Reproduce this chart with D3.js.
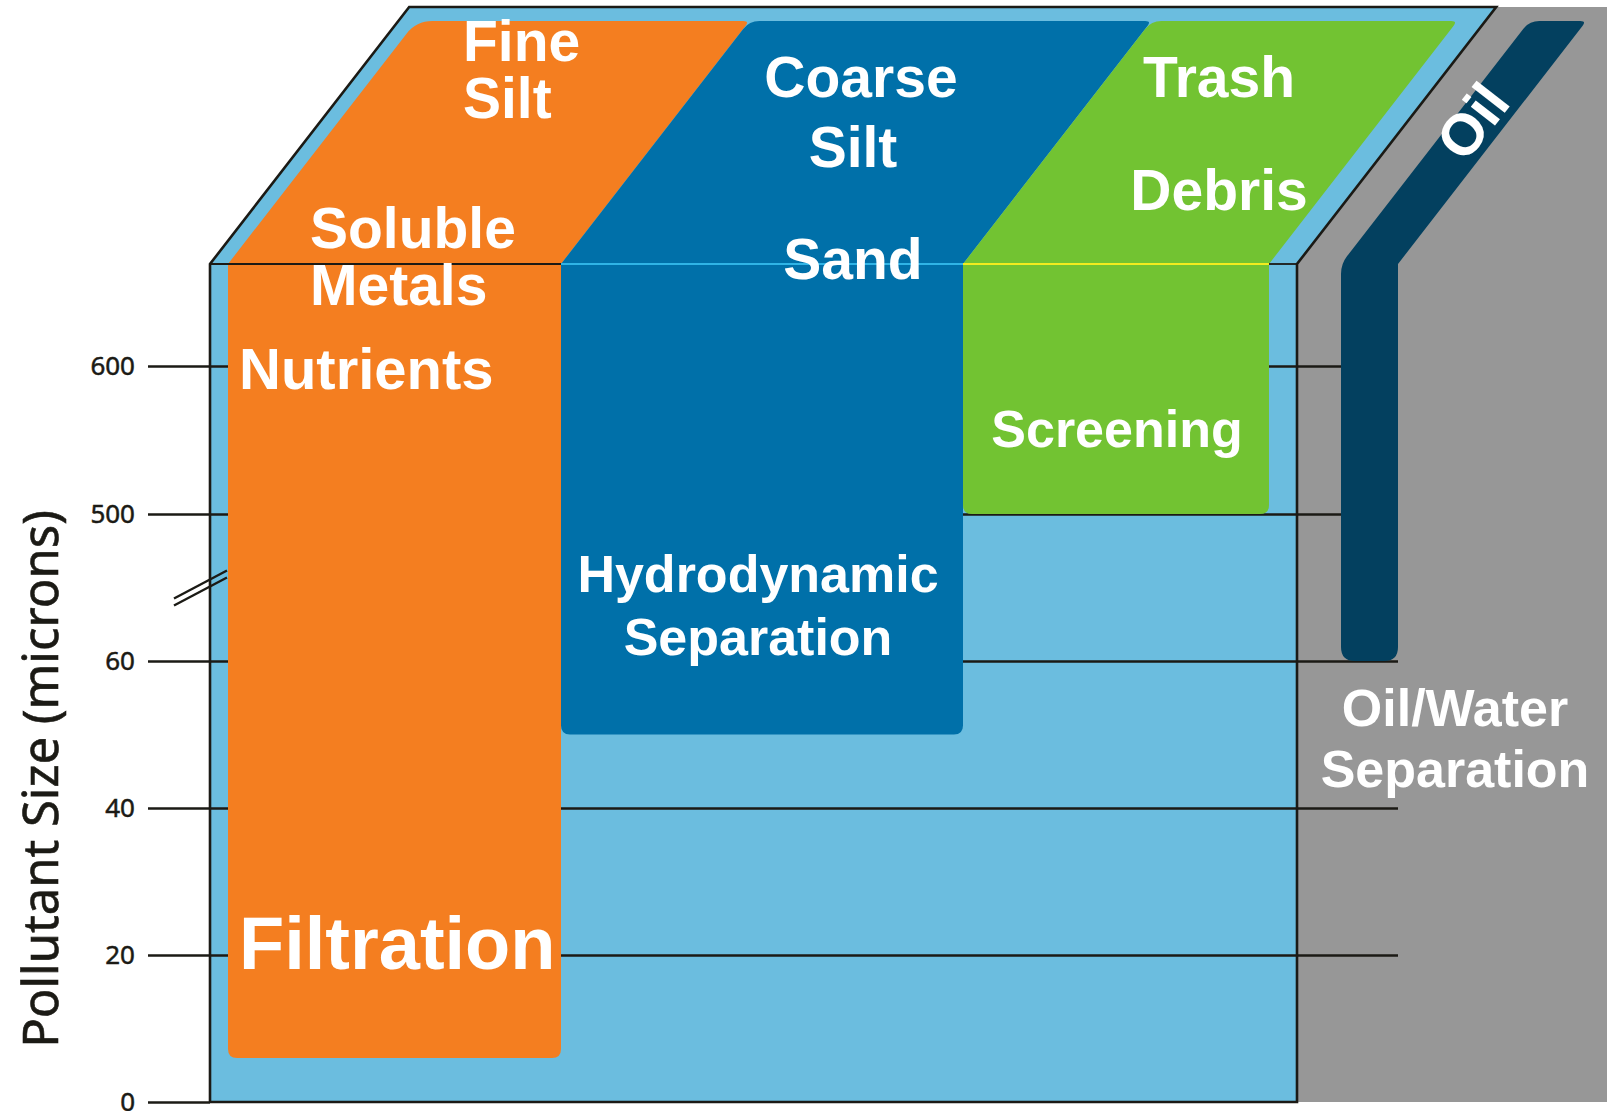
<!DOCTYPE html>
<html>
<head>
<meta charset="utf-8">
<script src="https://cdn.jsdelivr.net/npm/d3@7"></script>
<style>
  html, body { margin: 0; padding: 0; background: #fff; }
  svg { display: block; }
</style>
</head>
<body>
<svg id="chart"></svg>
<script>
// ---- data ----
const methods = ["Filtration", "Hydrodynamic Separation", "Screening", "Oil/Water Separation"];
const minSize = [6, 50, 500, 60]; // smallest pollutant size each method handles (microns)
const tickValues = [0, 20, 40, 60, 500, 600];
const axisBreak = [60, 500];
const pollutants = [
  ["Fine", "Silt", "Soluble", "Metals", "Nutrients"],
  ["Coarse", "Silt", "Sand"],
  ["Trash", "Debris"],
  ["Oil"]
];
const methodLines = [["Filtration"], ["Hydrodynamic", "Separation"], ["Screening"], ["Oil/Water", "Separation"]];
const yTitle = "Pollutant Size (microns)";

// ---- layout ----
const W = 1607, H = 1111;
const box = { left: 210, right: 1297, top: 264, bottom: 1102, back: 7 };
const innerTop = 21;
const shear = 0.775; // x shift per pixel of depth on the top face
const cols = [
  { x0: 228, x1: 561 },
  { x0: 561, x1: 963 },
  { x0: 963, x1: 1269 },
  { x0: 1341, x1: 1398 }
];
const colors = ["#F47E20", "#0070A9", "#72C332", "#03405F"];
const ink = "#1B1A15";
const water = "#6BBDDF";
const gray = "#979797";
const gridEnd = 1398;

const pollutantSpots = [
  [{ x: 463, y: 61, a: "start" }, { x: 463, y: 118, a: "start" },
   { x: 310, y: 248, a: "start" }, { x: 310, y: 305, a: "start" },
   { x: 239, y: 389, a: "start", fs: 58 }],
  [{ x: 861, y: 97 }, { x: 853, y: 167 }, { x: 853, y: 279 }],
  [{ x: 1219, y: 97 }, { x: 1219, y: 210 }],
  [{ x: 1472, y: 121, rot: -52, fs: 58 }]
];
const methodSpots = [
  { x: 239, y: [969], a: "start", fs: 74 },
  { x: 758, y: [592, 655] },
  { x: 1117, y: [447] },
  { x: 1455, y: [726, 787] }
];

const y = d3.scaleLinear()
  .domain([0, 60, 500, 600])
  .range([1102, 661, 514, 366]);

const svg = d3.select("#chart").attr("width", W).attr("height", H);

// polygon with rounded corners, pts = [x, y, r]
function roundPoly(pts) {
  const n = pts.length;
  let d = "";
  const toward = (p, q, r) => {
    const dx = q[0] - p[0], dy = q[1] - p[1];
    const len = Math.hypot(dx, dy);
    return [p[0] + dx / len * r, p[1] + dy / len * r];
  };
  pts.forEach((p, i) => {
    const prev = pts[(i - 1 + n) % n], next = pts[(i + 1) % n];
    const r = p[2] || 0;
    if (r > 0) {
      const a = toward(p, prev, r), b = toward(p, next, r);
      d += (i === 0 ? "M" : "L") + a[0] + "," + a[1] + "Q" + p[0] + "," + p[1] + " " + b[0] + "," + b[1];
    } else {
      d += (i === 0 ? "M" : "L") + p[0] + "," + p[1];
    }
  });
  return d + "Z";
}

const depth = box.top - innerTop;
const outerDepth = box.top - box.back;

// gray side panel
svg.append("path")
  .attr("d", roundPoly([[box.right, box.top], [box.right + shear * outerDepth, box.back], [W, box.back], [W, box.bottom], [box.right, box.bottom]]))
  .attr("fill", gray);

// top face and front face of the tank
svg.append("path")
  .attr("d", roundPoly([[box.left, box.top], [box.left + shear * outerDepth, box.back], [box.right + shear * outerDepth, box.back], [box.right, box.top]]))
  .attr("fill", water);
svg.append("rect")
  .attr("x", box.left).attr("y", box.top)
  .attr("width", box.right - box.left).attr("height", box.bottom - box.top)
  .attr("fill", water);

// gridlines
const grid = svg.append("g")
  .attr("transform", `translate(${box.left},0)`)
  .call(d3.axisLeft(y).tickValues(tickValues.filter(d => d > 0)).tickSize(-(gridEnd - box.left)).tickFormat(""));
grid.select(".domain").remove();
grid.selectAll("line").attr("stroke", ink).attr("stroke-width", 2.6);

// method columns (front + top face)
methods.forEach((m, i) => {
  const c = cols[i];
  const yb = y(minSize[i]);
  svg.append("path")
    .attr("class", "method")
    .attr("d", roundPoly([
      [c.x0, yb, i === 3 ? 14 : 9],
      [c.x0, box.top, i === 3 ? 10 : 0],
      [c.x0 + shear * depth, innerTop, i === 0 ? 16 : 10],
      [c.x1 + shear * depth, innerTop, 6],
      [c.x1, box.top, 0],
      [c.x1, yb, i === 3 ? 14 : 9]
    ]))
    .attr("fill", colors[i]);
});

// tank outline
const outline = svg.append("g").attr("fill", "none").attr("stroke", ink).attr("stroke-width", 2.6);
outline.append("path")
  .attr("d", `M${box.left},${box.bottom}V${box.top}L${box.left + shear * outerDepth},${box.back}H${box.right + shear * outerDepth}L${box.right},${box.top}V${box.bottom}H${box.left}`)
  .attr("stroke-linejoin", "miter");

// front top edge
const edgeSegs = [
  [box.left, cols[0].x1, ink],
  [cols[1].x0, cols[1].x1, "#2FB4E6"],
  [cols[2].x0, cols[2].x1, "#F2EC1E"],
  [cols[2].x1, box.right, ink]
];
edgeSegs.forEach(s => {
  svg.append("line")
    .attr("x1", s[0]).attr("x2", s[1]).attr("y1", box.top).attr("y2", box.top)
    .attr("stroke", s[2]).attr("stroke-width", 1.8);
});

// y axis
const axis = svg.append("g")
  .attr("transform", `translate(${box.left},0)`)
  .call(d3.axisLeft(y).tickValues(tickValues).tickSize(62).tickPadding(13).tickSizeOuter(0));
axis.select(".domain").remove();
axis.selectAll("line").attr("stroke", ink).attr("stroke-width", 2.6);
axis.selectAll("text")
  .attr("fill", ink)
  .attr("stroke", ink)
  .attr("stroke-width", 0.5)
  .style("font-family", "'Noto Sans', 'Open Sans', sans-serif")
  .style("font-size", "26px");

// axis break marks
const yb = (y(axisBreak[0]) + y(axisBreak[1])) / 2;
[0, 7].forEach(off => {
  svg.append("line")
    .attr("x1", 174).attr("y1", yb + 11 + off)
    .attr("x2", 227).attr("y2", yb - 17 + off)
    .attr("stroke", ink).attr("stroke-width", 2.4);
});

// axis title
svg.append("text")
  .attr("transform", "translate(58,779) rotate(-90)")
  .attr("text-anchor", "middle")
  .attr("fill", ink)
  .attr("stroke", ink)
  .attr("stroke-width", 0.6)
  .style("font-family", "'Noto Sans', 'Open Sans', sans-serif")
  .style("font-size", "49px")
  .text(yTitle);

// labels
const labelFont = "'Liberation Sans', Arial, Helvetica, sans-serif";
pollutants.forEach((group, i) => {
  group.forEach((t, j) => {
    const s = pollutantSpots[i][j];
    const txt = svg.append("text")
      .attr("fill", "#fff")
      .attr("text-anchor", s.a || "middle")
      .style("font-family", labelFont)
      .style("font-weight", "bold")
      .style("font-size", (s.fs || 57) + "px")
      .text(t);
    if (s.rot) {
      txt.attr("transform", `translate(${s.x},${s.y}) rotate(${s.rot})`).attr("dy", "0.36em");
    } else {
      txt.attr("x", s.x).attr("y", s.y);
    }
  });
});

methodLines.forEach((lines, i) => {
  const s = methodSpots[i];
  lines.forEach((t, j) => {
    svg.append("text")
      .attr("x", s.x).attr("y", s.y[j])
      .attr("fill", "#fff")
      .attr("text-anchor", s.a || "middle")
      .style("font-family", labelFont)
      .style("font-weight", "bold")
      .style("font-size", (s.fs || 52) + "px")
      .text(t);
  });
});
</script>
</body>
</html>
